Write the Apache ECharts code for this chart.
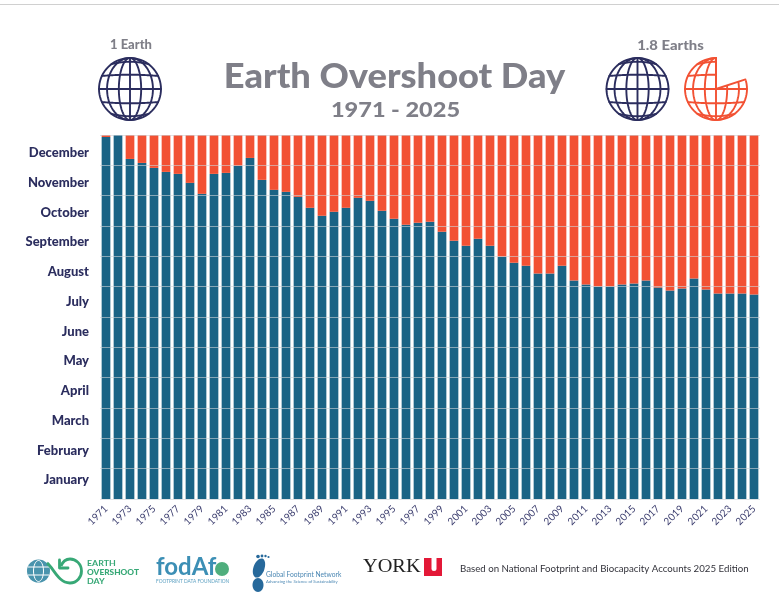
<!DOCTYPE html>
<html>
<head>
<meta charset="utf-8">
<style>html,body{margin:0;padding:0;background:#fff}#chart{width:779px;height:604px}</style>
<script src="https://cdn.jsdelivr.net/npm/echarts@6/dist/echarts.min.js"></script>
</head>
<body>
<div id="chart"></div>
<script>
// Earth Overshoot Day by year: day of the year on which demand exceeds biocapacity.
const years = ['1971','1972','1973','1974','1975','1976','1977','1978','1979','1980','1981','1982','1983','1984','1985','1986','1987','1988','1989','1990','1991','1992','1993','1994','1995','1996','1997','1998','1999','2000','2001','2002','2003','2004','2005','2006','2007','2008','2009','2010','2011','2012','2013','2014','2015','2016','2017','2018','2019','2020','2021','2022','2023','2024','2025'];
const overshootDay = [363,365,341,337,332,328,326,317,306,326,327,334,342,320,310,308,303,292,284,288,292,302,299,289,281,275,277,278,268,259,254,261,254,243,237,234,226,226,234,219,215,213,213,215,216,219,212,209,211,221,210,206,206,206,205];
const daysInYear = 365;
const remainingDays = overshootDay.map(d => daysInYear - d);
const months = ['January','February','March','April','May','June','July','August','September','October','November','December'];

const BLUE = '#1a6385', ORANGE = '#f25133', NAVY = '#2b2d5e', GREY = '#7f7f88', GREEN = '#37a876', TEAL = '#4a94ad';
const FONT = 'Lato, "Open Sans", sans-serif';

function stroke(points, color, width) {
  return {type:'polyline', silent:true, shape:{points}, style:{fill:null, stroke:color, lineWidth:width, lineCap:'round', lineJoin:'round'}};
}

// Wire globe icon, built as polylines; an optional notch removes a sector clockwise from the top.
function globe(cx, cy, r, color, notchDeg) {
  const out = [];
  const inNotch = (x, y) => {
    if (!notchDeg) return false;
    const a = (Math.atan2(x - cx, cy - y) * 180 / Math.PI + 360) % 360;
    return a > 0.01 && a < notchDeg;
  };
  const addCurve = (fn) => {
    let run = [];
    const flush = () => {
      if (run.length > 1) out.push(stroke(run, color, 1.9));
      run = [];
    };
    for (let i = 0; i <= 72; i++) {
      const p = fn(i / 72);
      if (inNotch(p[0], p[1])) flush(); else run.push(p);
    }
    flush();
  };
  addCurve(t => [cx + r * Math.sin(t * 2 * Math.PI), cy - r * Math.cos(t * 2 * Math.PI)]);
  [0, 0.36, 0.74].forEach(k => {
    [-1, 1].forEach(s => {
      if (k === 0 && s === 1) return;
      addCurve(t => {
        const a = (t - 0.5) * Math.PI;
        return [cx + s * k * r * Math.cos(a), cy + r * Math.sin(a)];
      });
    });
  });
  [-0.8, -0.42, 0, 0.42, 0.8].forEach(lat => {
    const half = Math.sqrt(1 - lat * lat) * r;
    const bend = lat * 3;
    addCurve(t => {
      const u = 2 * t - 1;
      return [cx + u * half, cy + lat * r + bend * (1 - u * u)];
    });
  });
  if (notchDeg) {
    const a = notchDeg * Math.PI / 180;
    out.push(stroke([[cx, cy - r],[cx, cy],[cx + r * Math.sin(a), cy - r * Math.cos(a)]], color, 1.9));
  }
  return out;
}

function label(x, y, text, size, color, weight, align, extra, scaleX) {
  return {type:'text', silent:true, x, y, scaleX: scaleX || 1, style:Object.assign({text, fontSize:size, fontWeight:weight, fontFamily:FONT, fill:color, align:align || 'left', verticalAlign:'middle'}, extra || {})};
}

function bezier(x1, y1, cpx1, cpy1, cpx2, cpy2, x2, y2, color, width) {
  return {type:'bezierCurve', silent:true, shape:{x1, y1, cpx1, cpy1, cpx2, cpy2, x2, y2}, style:{fill:null, stroke:color, lineWidth:width}};
}

const decorations = [
  {type:'rect', silent:true, shape:{x:0, y:4, width:779, height:1}, style:{fill:'#d0d0d0'}},
  label(131, 45, '1 Earth', 13, GREY, 900, 'center'),
  label(670.5, 45, '1.8 Earths', 14, GREY, 900, 'center', null, 1.06),
  label(394.5, 77, 'Earth Overshoot Day', 34, GREY, 900, 'center', null, 1.065),
  label(395.5, 110.5, '1971 - 2025', 21, GREY, 900, 'center', null, 1.12),
  ...globe(130, 89, 31, NAVY),
  ...globe(637.5, 89, 31, NAVY),
  ...globe(716, 89, 31, ORANGE, 72),

  // Earth Overshoot Day mark
  {type:'circle', silent:true, shape:{cx:38.5, cy:571, r:11.5}, style:{fill:TEAL}},
  {type:'ellipse', silent:true, shape:{cx:38.5, cy:571, rx:5, ry:10.5}, style:{fill:null, stroke:'#ffffff', lineWidth:1}},
  {type:'line', silent:true, shape:{x1:28, y1:567, x2:49, y2:567}, style:{stroke:'#ffffff', lineWidth:1}},
  {type:'line', silent:true, shape:{x1:28, y1:575, x2:49, y2:575}, style:{stroke:'#ffffff', lineWidth:1}},
  bezier(47, 563, 53, 567, 58, 583, 70, 583, GREEN, 2.8),
  bezier(70, 583, 77, 583, 81.5, 577, 81.5, 571, GREEN, 2.8),
  bezier(81.5, 571, 81.5, 564, 76, 559, 70, 559, GREEN, 2.8),
  bezier(70, 559, 66, 559, 63, 561, 61, 566, GREEN, 2.8),
  stroke([[59.5, 560], [59.5, 568], [68, 568]], GREEN, 2.8),
  label(87, 563, 'EARTH', 8, GREEN, 700, 'left', null, 1.1),
  label(87, 572, 'OVERSHOOT', 8, GREEN, 900, 'left', null, 1.04),
  label(87, 581, 'DAY', 8, GREEN, 700, 'left', null, 1.1),

  // Footprint Data Foundation mark
  label(156, 567, 'fodAf', 24, '#3c8fb5', 700, 'left'),
  {type:'circle', silent:true, shape:{cx:222, cy:569, r:7}, style:{fill:'#4fae7d'}},
  label(156, 581, 'FOOTPRINT DATA FOUNDATION', 4.8, '#5a9fc0', 400, 'left'),

  // Global Footprint Network mark
  {type:'ellipse', silent:true, rotation:-0.35, originX:259, originY:568, shape:{cx:259, cy:568, rx:5.5, ry:10}, style:{fill:'#27699b'}},
  {type:'circle', silent:true, shape:{cx:258, cy:556.5, r:1.8}, style:{fill:'#27699b'}},
  {type:'circle', silent:true, shape:{cx:262, cy:556, r:1.4}, style:{fill:'#27699b'}},
  {type:'circle', silent:true, shape:{cx:265.5, cy:556, r:1.2}, style:{fill:'#27699b'}},
  {type:'circle', silent:true, shape:{cx:268.5, cy:557, r:1.1}, style:{fill:'#27699b'}},
  {type:'ellipse', silent:true, shape:{cx:258, cy:585, rx:5.5, ry:7}, style:{fill:'#27699b'}},
  label(266, 575, 'Global Footprint Network', 6.7, '#4b87b3', 400, 'left'),
  label(266, 581.5, 'Advancing the Science of Sustainability', 4.2, '#4b87b3', 400, 'left'),

  // York University mark
  label(363, 567, 'YORK', 19, '#222222', 400, 'left', {fontFamily:'"Liberation Serif", serif'}, 1.07),
  {type:'rect', silent:true, shape:{x:424, y:558, width:18, height:18}, style:{fill:'#e31837'}},
  {type:'rect', silent:true, shape:{x:431.5, y:558, width:5, height:13, r:[0, 0, 2.5, 2.5]}, style:{fill:'#ffffff'}},

  label(460, 569, 'Based on National Footprint and Biocapacity Accounts 2025 Edition', 9.7, '#33333b', 400, 'left')
];

const option = {
  animation: false,
  backgroundColor: '#ffffff',
  graphic: {elements: decorations},
  grid: [
    {left: 100, width: 660, top: 135, height: 364},
    // Month names sit on a slightly tighter band than the gridlines.
    {left: 100, width: 660, top: 138, height: 357}
  ],
  xAxis: [
    {
      type: 'category',
      gridIndex: 0,
      data: years,
      axisLine: {show: false},
      axisTick: {show: false},
      axisLabel: {interval: 1, rotate: 45, color: '#3b3d6e', fontSize: 10, fontFamily: FONT, margin: 8}
    },
    {type: 'category', gridIndex: 1, data: years, show: false}
  ],
  yAxis: [
    {type: 'value', gridIndex: 0, min: 0, max: daysInYear, show: false},
    {
      type: 'category',
      gridIndex: 0,
      position: 'left',
      data: months,
      z: 5,
      axisLine: {show: false},
      axisTick: {show: false},
      axisLabel: {show: false},
      splitLine: {show: true, lineStyle: {color: 'rgba(205,210,214,0.62)', width: 1}}
    },
    {
      type: 'category',
      gridIndex: 1,
      position: 'left',
      data: months,
      axisLine: {show: false},
      axisTick: {show: false},
      splitLine: {show: false},
      axisLabel: {color: NAVY, fontSize: 13, fontWeight: 900, fontFamily: FONT, margin: 11}
    }
  ],
  series: [
    {type: 'bar', stack: 'year', xAxisIndex: 0, yAxisIndex: 0, data: overshootDay, barWidth: 8.7, itemStyle: {color: BLUE}},
    {type: 'bar', stack: 'year', xAxisIndex: 0, yAxisIndex: 0, data: remainingDays, barWidth: 8.7, itemStyle: {color: ORANGE}}
  ]
};

echarts.init(document.getElementById('chart'), null, {renderer: 'canvas'}).setOption(option);
</script>
</body>
</html>
